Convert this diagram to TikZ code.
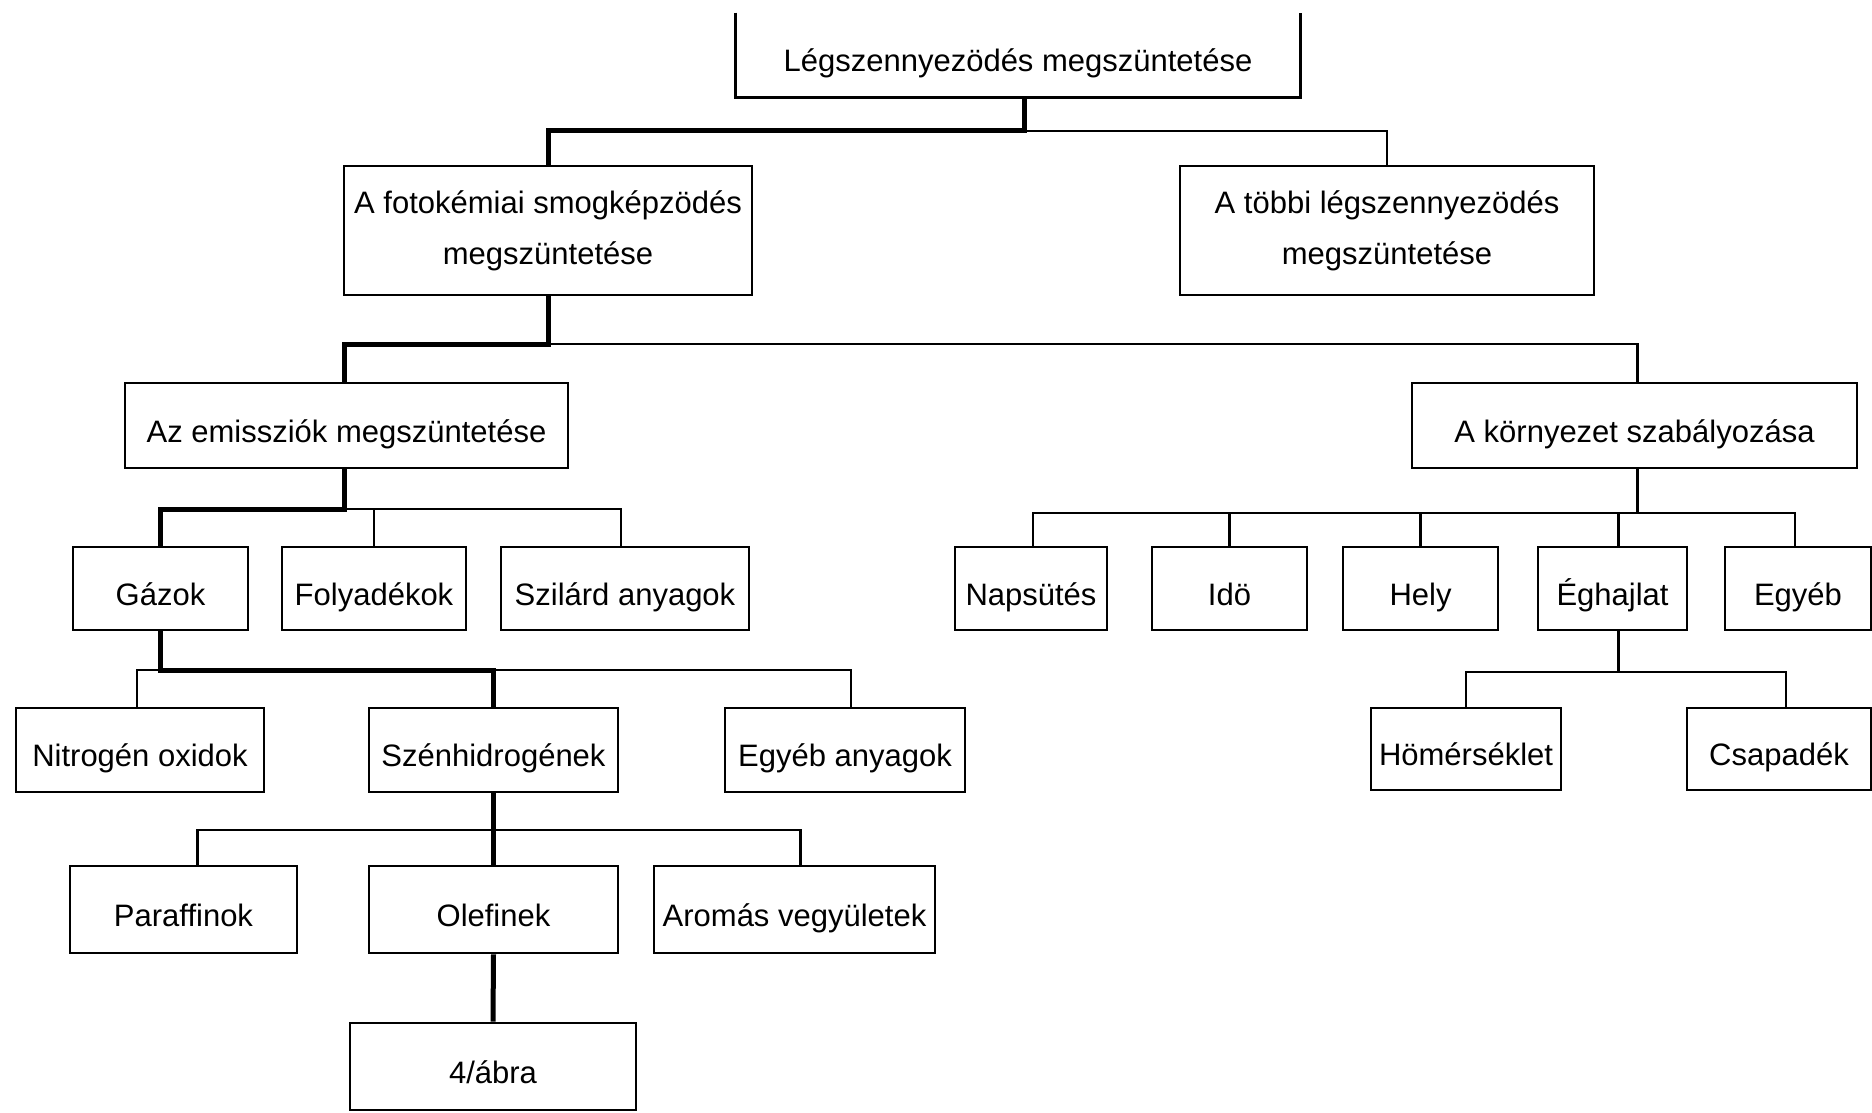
\documentclass[tikz,border=0pt]{standalone}
\usepackage{fontspec}
\setmainfont{Liberation Sans}
\begin{document}
\begin{tikzpicture}[x=1pt,y=-1pt,
  bx/.style={draw, line width=2.6pt, inner sep=0pt, align=center, font=\fontsize{31}{51}\selectfont},
  sx/.style={bx, text height=37pt, text depth=4pt},
  thn/.style={line width=2.2pt},
  thk/.style={line width=5pt}]
\useasboundingbox[fill=white] (0,0) rectangle (1872,1113);
% nodes
\node[sx, draw=none, minimum width=562pt, minimum height=82pt] (top) at (1018,55) {Légszennyezödés megszüntetése};
\draw[line width=2.6pt] (top.north west) -- (top.south west) -- (top.south east) -- (top.north east);
\node[bx, minimum width=408pt, minimum height=129pt] (fk) at (548,230.5) {A fotokémiai smogképzödés\\megszüntetése};
\node[bx, minimum width=414pt, minimum height=129pt] (tb) at (1387,230.5) {A többi légszennyezödés\\megszüntetése};
\node[sx, minimum width=443pt, minimum height=85pt] (emis) at (346.5,425.5) {Az emissziók megszüntetése};
\node[sx, minimum width=445pt, minimum height=85pt] (korny) at (1634.5,425.5) {A környezet szabályozása};
\node[sx, minimum width=175pt, minimum height=83pt] (gaz) at (160.5,588.5) {Gázok};
\node[sx, minimum width=184pt, minimum height=83pt] (foly) at (374,588.5) {Folyadékok};
\node[sx, minimum width=248pt, minimum height=83pt] (szil) at (625,588.5) {Szilárd anyagok};
\node[sx, minimum width=248pt, minimum height=84pt] (nitro) at (140,750) {Nitrogén oxidok};
\node[sx, minimum width=249pt, minimum height=84pt] (szen) at (493.5,750) {Szénhidrogének};
\node[sx, minimum width=240pt, minimum height=84pt] (egyeb) at (845,750) {Egyéb anyagok};
\node[sx, minimum width=227pt, minimum height=87pt] (para) at (183.5,909.5) {Paraffinok};
\node[sx, minimum width=249pt, minimum height=87pt] (olef) at (493.5,909.5) {Olefinek};
\node[sx, minimum width=281pt, minimum height=87pt] (arom) at (794.5,909.5) {Aromás vegyületek};
\node[sx, minimum width=286pt, minimum height=87pt] (abra) at (493,1066.5) {4/ábra};
\node[sx, minimum width=152pt, minimum height=83pt] (nap) at (1031,588.5) {Napsütés};
\node[sx, minimum width=155pt, minimum height=83pt] (ido) at (1229.5,588.5) {Idö};
\node[sx, minimum width=155pt, minimum height=83pt] (hely) at (1420.5,588.5) {Hely};
\node[sx, minimum width=149pt, minimum height=83pt] (egh) at (1612.5,588.5) {Éghajlat};
\node[sx, minimum width=146pt, minimum height=83pt] (egy) at (1798,588.5) {Egyéb};
\node[sx, minimum width=190pt, minimum height=82pt] (hom) at (1466,749) {Hömérséklet};
\node[sx, minimum width=184pt, minimum height=82pt] (csap) at (1779,749) {Csapadék};
% bus levels
\coordinate (l1) at (0,131);
\coordinate (l2) at (0,344);
\coordinate (l3) at (0,509);
\coordinate (l4) at (0,670);
\coordinate (l5) at (0,830);
\coordinate (l6) at (0,513);
\coordinate (l7) at (0,672);
% connectors
\draw[thk] ([xshift=6pt]top.south) -- ([xshift=6pt]top.south |- l1) -| (fk.north);
\draw[thn] ([xshift=6pt]top.south |- l1) -| (tb.north);
\draw[thk] (fk.south) -- (fk.south |- l2) -| ([xshift=-2pt]emis.north);
\draw[thn] (fk.south |- l2) -| ([xshift=3pt]korny.north);
\draw[thk] ([xshift=-2pt]emis.south) -- ([xshift=-2pt]emis.south |- l3) -| (gaz.north);
\draw[thn] ([xshift=-2pt]emis.south |- l3) -| ([xshift=-4pt]szil.north);
\draw[thn] (foly.north) -- (foly.north |- l3);
\draw[thk] (gaz.south) -- (gaz.south |- l4) -| (szen.north);
\draw[thn] (gaz.south |- l4) -| ([xshift=-3pt]nitro.north);
\draw[thn] (szen.north |- l4) -| ([xshift=6pt]egyeb.north);
\draw[thk] (szen.south) -- (olef.north);
\draw[thn] (szen.south |- l5) -| ([xshift=14pt]para.north);
\draw[thn] (szen.south |- l5) -| ([xshift=6pt]arom.north);
\draw[thk] (olef.south) -- (abra.north);
\draw[thn] ([xshift=3pt]korny.south) -- ([xshift=3pt]korny.south |- l6);
\draw[thn] ([xshift=2pt]nap.north) |- ([xshift=-3pt]egy.north |- l6) -- ([xshift=-3pt]egy.north);
\draw[thn] (ido.north) -- (ido.north |- l6);
\draw[thn] (hely.north) -- (hely.north |- l6);
\draw[thn] ([xshift=6pt]egh.north) -- ([xshift=6pt]egh.north |- l6);
\draw[thn] ([xshift=6pt]egh.south) -- ([xshift=6pt]egh.south |- l7);
\draw[thn] (hom.north) |- ([xshift=7pt]csap.north |- l7) -- ([xshift=7pt]csap.north);
\end{tikzpicture}
\end{document}
